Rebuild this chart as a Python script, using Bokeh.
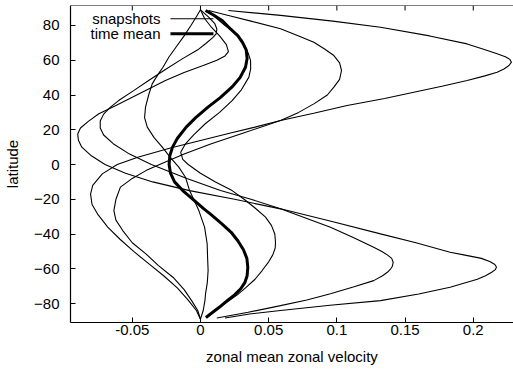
from bokeh.plotting import figure
from bokeh.models import Range1d, FixedTicker, Label, Span
from bokeh.embed import file_html
from bokeh.resources import INLINE

# ---------------- data ----------------
# time mean
mean_lat = [-88, -85, -82, -78.3, -75, -71.5, -68, -64, -59, -54, -49, -44, -39, -34, -29, -25.5, -20, -15, -10,
            -5, 0, 5, 10, 15, 21.5, 27, 33, 38.5, 44.5, 50, 56, 61, 66, 70, 74, 78, 82.9, 86, 88.6]
mean_u = [0.004, 0.009, 0.014, 0.0196, 0.025, 0.0295, 0.0325, 0.0342, 0.0347, 0.034, 0.0315, 0.0275, 0.0225,
          0.0155, 0.008, 0.0025, -0.0055, -0.013, -0.019, -0.022, -0.023, -0.0225, -0.0205, -0.017, -0.0105,
          -0.0035, 0.0055, 0.0145, 0.023, 0.029, 0.033, 0.0342, 0.0335, 0.031, 0.0275, 0.022, 0.0159, 0.0095,
          0.0037]

# snapshot 1: strong southern jet, northern easterly
s1_lat = [-88.3, -86, -84, -81, -78.3, -74.5, -70.6, -66, -64, -62, -60.5, -59, -57.5, -56, -54, -52, -50.5, -45,
          -39.9, -32.5, -25.5, -20, -15, -10, -5, 0, 5, 10, 14, 17.6, 21, 25, 29.2, 34, 38.7, 43.5, 48.3, 53, 57,
          60, 62.5, 65, 69, 74, 79, 84, 89]
s1_u = [0.018, 0.036, 0.0587, 0.095, 0.132, 0.16, 0.183, 0.203, 0.209, 0.2135, 0.2162, 0.217, 0.2158, 0.2125,
        0.206, 0.193, 0.183, 0.158, 0.132, 0.095, 0.0587, 0.025, -0.008, -0.035, -0.055, -0.07, -0.08, -0.087,
        -0.0895, -0.09, -0.088, -0.082, -0.0745, -0.062, -0.05, -0.038, -0.0257, -0.012, 0.002, 0.012, 0.018,
        0.0205, 0.019, 0.014, 0.008, 0.003, 0.0]

# snapshot 2
s2_lat = [-88.3, -85, -81.2, -78, -74.4, -70.5, -66.8, -64, -62, -60, -58.5, -56.2, -54, -52, -50, -47.6, -42,
          -36.1, -30.5, -25.5, -20, -15, -8, 0, 6, 12, 17, 21, 25, 29, 33, 36.8, 42.5, 48.3, 54.5, 60.8, 66,
          69.5, 73, 75.2, 78, 81, 84.8, 89]
s2_u = [0.012, 0.035, 0.0587, 0.078, 0.0953, 0.112, 0.127, 0.1335, 0.137, 0.1395, 0.1407, 0.1413, 0.1402, 0.137,
        0.133, 0.127, 0.112, 0.0953, 0.076, 0.0587, 0.037, 0.0147, -0.01, -0.036, -0.052, -0.064, -0.071,
        -0.0735, -0.0735, -0.071, -0.066, -0.06, -0.049, -0.038, -0.026, -0.0134, -0.002, 0.0037, 0.009, 0.0115,
        0.012, 0.0105, 0.006, 0.0]

# snapshot 3: strong northern jet, southern easterly
s3_lat = [-89, -84, -78, -71, -64, -57, -50, -43, -36, -29, -23, -17, -12, -5.4, 0, 4.2, 9.5, 13.8, 18.1, 21.5,
          25.3, 29.5, 34, 38, 41.6, 45, 48.3, 51, 53.1, 55, 57, 58.9, 60.5, 62, 63.7, 66.5, 69.4, 74, 79, 82.5,
          85.8, 88.6]
s3_u = [0.0, -0.003, -0.009, -0.017, -0.027, -0.038, -0.049, -0.059, -0.068, -0.075, -0.0795, -0.0806, -0.079,
        -0.072, -0.061, -0.046, -0.022, 0.0, 0.022, 0.04, 0.0587, 0.083, 0.1075, 0.135, 0.1564, 0.177, 0.1955,
        0.2085, 0.2175, 0.2225, 0.2262, 0.228, 0.2268, 0.2235, 0.2175, 0.207, 0.1955, 0.168, 0.132, 0.097,
        0.0587, 0.0205]

# snapshot 4
s4_lat = [-89, -84, -78.3, -72, -65, -58, -51.4, -45, -38, -32, -26.5, -20, -13, -8, -3.5, 0, 6, 12, 18, 25.3,
          30, 34.9, 40, 44.5, 49, 54.1, 58.5, 62.7, 66.5, 70.4, 74, 78.1, 82.5, 85.5, 88.6]
s4_u = [0.0, -0.002, -0.0065, -0.012, -0.02, -0.031, -0.04, -0.05, -0.057, -0.062, -0.0635, -0.062, -0.0587,
        -0.05, -0.04, -0.03, -0.012, 0.008, 0.031, 0.0587, 0.072, 0.0831, 0.093, 0.0978, 0.102, 0.1034, 0.102,
        0.0978, 0.091, 0.0831, 0.072, 0.0587, 0.037, 0.022, 0.006]

# snapshot 5
s5_lat = [-88, -84, -80, -75, -71, -66, -61, -56, -52, -48, -44.7, -40, -35, -30.3, -25, -20, -15, -10, -5, 0,
          3, 7, 11.9, 17, 23.6, 30, 36.8, 43, 50.3, 55, 59.9, 64, 67.5, 71.4, 76, 80, 84, 88.6]
s5_u = [0.004, 0.0105, 0.018, 0.027, 0.033, 0.04, 0.0452, 0.05, 0.053, 0.0548, 0.055, 0.0545, 0.052, 0.0477,
        0.04, 0.032, 0.0232, 0.011, 0.0, -0.009, -0.013, -0.0145, -0.011, -0.005, 0.0037, 0.014, 0.0232, 0.03,
        0.0355, 0.0368, 0.0367, 0.035, 0.033, 0.0306, 0.025, 0.018, 0.012, 0.006]

# snapshot 6
s6_lat = [-89, -84, -78, -74.4, -68, -61, -53.3, -45.6, -36, -26.5, -20, -15, -7.3, -1.5, 4, 10, 15.5, 21.5, 27,
          33, 40, 46.4, 52, 56, 62, 67.5, 74, 80, 85, 89]
s6_u = [0.0, 0.002, 0.0033, 0.0037, 0.005, 0.0056, 0.0052, 0.0049, 0.003, -0.0012, -0.005, -0.008, -0.011,
        -0.0159, -0.022, -0.028, -0.034, -0.039, -0.041, -0.0403, -0.038, -0.0354, -0.031, -0.0275, -0.023,
        -0.018, -0.012, -0.007, -0.003, 0.0]

snap_lats = [s1_lat, s2_lat, s3_lat, s4_lat, s5_lat, s6_lat]
snap_us = [s1_u, s2_u, s3_u, s4_u, s5_u, s6_u]

x_ticks = [-0.05, 0, 0.05, 0.1, 0.15, 0.2]
x_tick_labels = ["-0.05", "0", "0.05", "0.1", "0.15", "0.2"]
y_ticks = [-80, -60, -40, -20, 0, 20, 40, 60, 80]
legend_labels = ["snapshots", "time mean"]

# ---------------- figure ----------------
FONT = "Liberation Sans"
X0, X1 = -0.0953, 0.2295
Y0, Y1 = -90.9, 91.5
p = figure(width=513, height=373, x_range=Range1d(X0, X1), y_range=Range1d(Y0, Y1),
           output_backend="svg", toolbar_location=None,
           min_border_left=70, min_border_right=0, min_border_top=5, min_border_bottom=51)
p.grid.visible = False
p.background_fill_color = "white"
p.border_fill_color = "white"
p.outline_line_color = None

for la, uu in zip(snap_lats, snap_us):
    p.line(uu, la, line_color="black", line_width=1.1)
p.line(mean_u, mean_lat, line_color="black", line_width=3)

for ax in (p.xaxis[0], p.yaxis[0]):
    ax.major_tick_in = 5
    ax.major_tick_out = 0
    ax.minor_tick_in = 0
    ax.minor_tick_out = 0
    ax.axis_line_width = 1.2
    ax.major_label_text_font = FONT
    ax.major_label_text_font_size = "15px"
    ax.major_label_text_color = "black"
    ax.axis_label_text_font = FONT
    ax.axis_label_text_font_size = "15px"
    ax.axis_label_text_font_style = "normal"
    ax.axis_label_text_color = "black"

p.xaxis.ticker = FixedTicker(ticks=x_ticks)
p.xaxis.major_label_overrides = {t: s for t, s in zip(x_ticks, x_tick_labels)}
p.xaxis.axis_label = "zonal mean zonal velocity"
p.xaxis.major_label_standoff = 2
p.xaxis.axis_label_standoff = 10

p.yaxis.ticker = FixedTicker(ticks=y_ticks)
p.yaxis.axis_label = "latitude"
p.yaxis.major_label_standoff = 11
p.yaxis.axis_label_standoff = 10

# top border with mirrored (inward) ticks
p.add_layout(Span(location=Y1, dimension="width", line_color="black", line_width=1.2))
tick_len = 5 / 1.7375
p.segment(x0=x_ticks, y0=[Y1] * len(x_ticks), x1=x_ticks, y1=[Y1 - tick_len] * len(x_ticks),
          line_color="black", line_width=1)

# key: labels on the left, line samples on the right (gnuplot style)
key_lat = [83.9, 75.2]
key_x0, key_x1, key_text_x = -0.022, 0.0095, -0.0293
p.segment(x0=[key_x0], y0=[key_lat[0]], x1=[key_x1], y1=[key_lat[0]], line_color="black", line_width=1.1)
p.segment(x0=[key_x0], y0=[key_lat[1]], x1=[key_x1], y1=[key_lat[1]], line_color="black", line_width=3)
for txt, yy in zip(legend_labels, key_lat):
    p.add_layout(Label(x=key_text_x, y=yy, text=txt, text_align="right", text_baseline="middle",
                       text_font=FONT, text_font_size="15px", text_color="black"))

open("out.html", "w").write(file_html(p, INLINE))
